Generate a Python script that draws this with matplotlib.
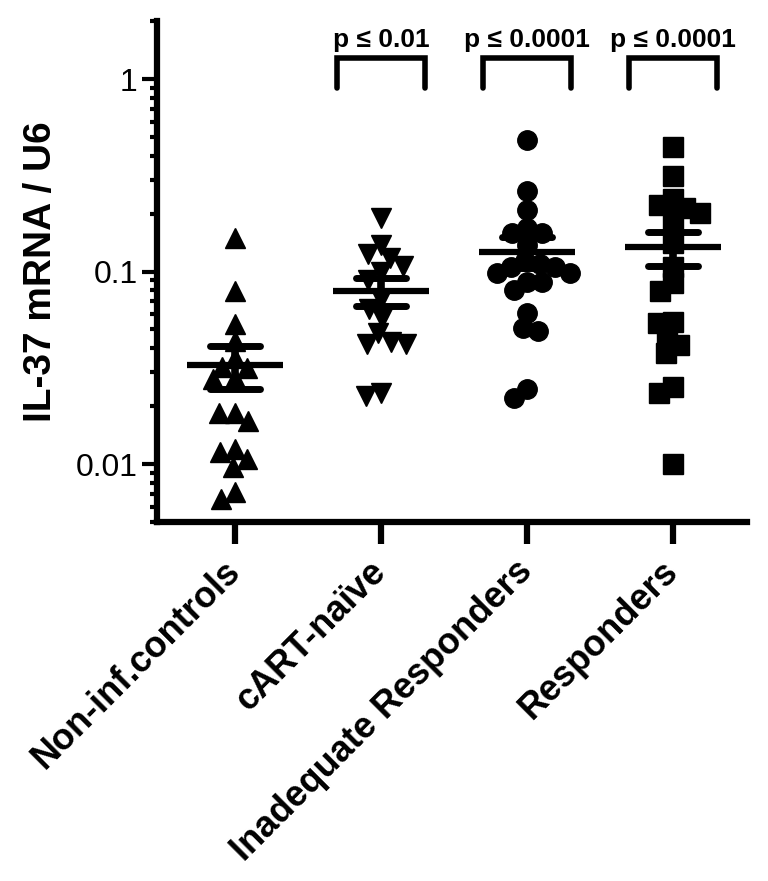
import matplotlib
matplotlib.use("Agg")
import matplotlib.pyplot as plt
import numpy as np
from matplotlib.ticker import LogLocator, FixedLocator, NullFormatter

# ------------------- dati ------------------- #
groups = ["Non-inf.controls", "cART-naïve", "Inadequate Responders", "Responders"]
markers = ["^", "v", "o", "s"]

ctrl_vals = [0.149, 0.0796, 0.0535, 0.0436, 0.0356, 0.0315, 0.032, 0.0276, 0.028,
             0.0184, 0.0167, 0.0184, 0.0119, 0.0106, 0.0097, 0.0116, 0.0066, 0.0072]
naive_vals = [0.189, 0.124, 0.137, 0.118, 0.107, 0.100, 0.09, 0.072, 0.064, 0.0575,
              0.048, 0.042, 0.042, 0.043, 0.0225, 0.0233]
inadeq_vals = [0.483, 0.262, 0.208, 0.158, 0.158, 0.168, 0.137, 0.114, 0.11, 0.105,
               0.105, 0.098, 0.098, 0.088, 0.088, 0.08, 0.061, 0.051, 0.049, 0.022, 0.0245]
resp_vals = [0.444, 0.313, 0.238, 0.221, 0.201, 0.213, 0.185, 0.14, 0.106, 0.0876,
             0.0796, 0.0548, 0.054, 0.0463, 0.0416, 0.0377, 0.0251, 0.0233, 0.010]

means = [0.0327, 0.0796, 0.127, 0.1335]
sem_lo = [0.0245, 0.0665, 0.104, 0.107]
sem_hi = [0.041, 0.093, 0.152, 0.160]

p_groups = [1, 2, 3]
p_labels = ["p ≤ 0.01", "p ≤ 0.0001", "p ≤ 0.0001"]

all_vals = [ctrl_vals, naive_vals, inadeq_vals, resp_vals]

FONT = ["Liberation Sans", "DejaVu Sans"]
plt.rcParams["font.family"] = FONT

fig = plt.figure(figsize=(7.68, 8.81), dpi=100)
ax = fig.add_axes([0.2044, 0.4075, 0.7683, 0.5686])
ax.set_yscale("log")
ax.set_ylim(0.005, 2.0)
ax.set_xlim(-0.534, 3.507)


def swarm_offsets(values, center, d_px):
    """Semplice beeswarm: sposta i punti in orizzontale finche' non si sovrappongono."""
    ys = ax.transData.transform([(center, v) for v in values])[:, 1]
    order = np.argsort(-ys)
    placed = []
    offs = np.zeros(len(values))
    for i in order:
        y = ys[i]
        cands = [0.0]
        for px, py in placed:
            dy = abs(py - y)
            if dy < d_px:
                dx = np.sqrt(d_px ** 2 - dy ** 2)
                cands += [px + dx, px - dx]
        cands.sort(key=lambda c: (round(abs(c), 3), c))
        best = cands[-1]
        for c in cands:
            if all((c - px) ** 2 + (y - py) ** 2 >= d_px ** 2 - 1e-6 for px, py in placed):
                best = c
                break
        placed.append((best, y))
        offs[i] = best
    x0 = ax.transData.transform((0, 1))[0]
    x1 = ax.transData.transform((1, 1))[0]
    return offs / (x1 - x0)


for i, vals in enumerate(all_vals):
    dx = swarm_offsets(vals, i, 15.5)
    ax.plot(i + dx, vals, linestyle="none", marker=markers[i], ms=14,
            color="black", zorder=3)
    # media +- SEM
    ax.plot([i - 0.33, i + 0.33], [means[i], means[i]], color="black", lw=4.5,
            solid_capstyle="butt", zorder=4)
    ax.plot([i, i], [sem_lo[i], sem_hi[i]], color="black", lw=5.5,
            solid_capstyle="butt", zorder=4)
    for v in (sem_lo[i], sem_hi[i]):
        ax.plot([i - 0.17, i + 0.17], [v, v], color="black", lw=5,
                solid_capstyle="round", zorder=4)

# parentesi con p-value
for g, lab in zip(p_groups, p_labels):
    ax.plot([g - 0.3, g - 0.3, g + 0.3, g + 0.3], [0.9, 1.29, 1.29, 0.9],
            color="black", lw=4, solid_joinstyle="miter", solid_capstyle="round",
            clip_on=False, zorder=5)
    ax.text(g, 1.6, lab, ha="center", va="center", fontsize=19,
            fontweight="bold", family=FONT)

# assi
for side in ["top", "right"]:
    ax.spines[side].set_visible(False)
for side in ["left", "bottom"]:
    ax.spines[side].set_linewidth(4.5)
ax.spines["left"].set_bounds(0.005, 2.0)

ax.yaxis.set_major_locator(FixedLocator([0.01, 0.1, 1]))
ax.yaxis.set_minor_locator(LogLocator(base=10, subs=np.arange(2, 10), numticks=20))
ax.yaxis.set_minor_formatter(NullFormatter())
ax.set_yticklabels(["0.01", "0.1", "1"])
ax.tick_params(axis="y", which="major", length=11, width=3, labelsize=23, pad=3)
ax.tick_params(axis="y", which="minor", length=5, width=3)

ax.set_xticks(range(len(groups)))
ax.set_xticklabels(groups, rotation=45, ha="right", va="center",
                   rotation_mode="anchor", fontsize=26, fontweight="bold")
ax.tick_params(axis="x", length=16, width=4.5, pad=16)

ax.set_ylabel("IL-37 mRNA / U6", fontsize=28, fontweight="bold", labelpad=12)

fig.savefig("out.png", dpi=100)
